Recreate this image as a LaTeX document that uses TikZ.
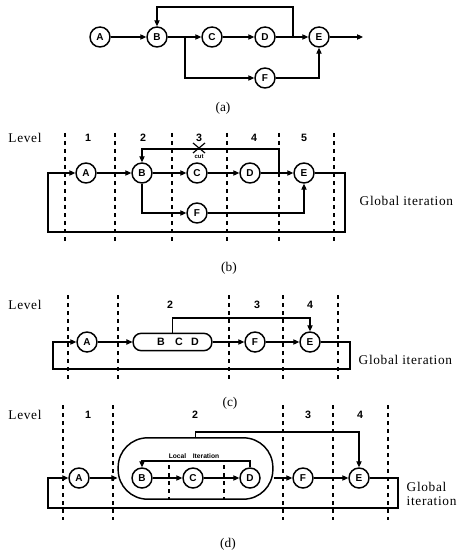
\documentclass[tikz,border=0pt]{standalone}
\usepackage{fontspec}
\setmainfont{Liberation Serif}
\setsansfont{Liberation Sans}
\newfontfamily\widefont[LetterSpace=5]{Liberation Serif}
\usetikzlibrary{arrows.meta}
\begin{document}
\begin{tikzpicture}[x=0.75pt,y=-0.75pt,
  nd/.style={circle,draw,line width=1.1pt,minimum size=15pt,inner sep=0pt,font=\sffamily\bfseries\fontsize{7.5}{8}\selectfont},
  ln/.style={line width=0.8pt},
  ar/.style={ln,-{Triangle[length=4.5pt,width=4pt]}},
  lvl/.style={dash pattern=on 3pt off 3pt,line width=0.8pt},
  num/.style={font=\sffamily\bfseries\fontsize{8}{9}\selectfont},
  txt/.style={font=\widefont\fontsize{10}{11}\selectfont},
  figcap/.style={font=\fontsize{10}{12}\selectfont},
  tiny/.style={font=\sffamily\bfseries\fontsize{4.5}{5}\selectfont,inner sep=0pt}]
\useasboundingbox (0,0) rectangle (461,556);
% ---------------- (a)
\node[nd] (aA) at (100,37) {A};
\node[nd] (aB) at (157,37) {B};
\node[nd] (aC) at (212,37) {C};
\node[nd] (aD) at (265,37) {D};
\node[nd] (aE) at (319,37) {E};
\node[nd] (aF) at (265,78) {F};
\draw[ar] (aA) -- (aB);
\draw[ar] (aB) -- (aC);
\draw[ar] (aC) -- (aD);
\draw[ar] (aD) -- (aE);
\coordinate (a1) at (293,37);
\coordinate (a2) at (157,7);
\coordinate (a3) at (185,37);
\coordinate (a4) at (363,37);
\draw[ar] (a1) |- (a2) -- (aB);
\draw[ar] (a3) |- (aF);
\draw[ar] (aF) -| (aE);
\draw[ar] (aE) -- (a4);
\node[figcap] (la) at (223,108) {(a)};
% ---------------- (b)
\node[txt] (bL) at (25,138) {Level};
\foreach \x in {65,115,172,227,279,334} \draw[lvl] (\x,133) -- (\x,242);
\foreach \x/\n in {88/1,143/2,199/3,254/4,304/5} \node[num,fill=white,inner sep=1pt] at (\x,138) {\n};
\node[nd] (bA) at (86,173) {A};
\node[nd] (bB) at (142,173) {B};
\node[nd] (bC) at (197,173) {C};
\node[nd] (bD) at (250,173) {D};
\node[nd] (bE) at (304,173) {E};
\node[nd] (bF) at (197,213) {F};
\draw[ar] (bA) -- (bB);
\draw[ar] (bB) -- (bC);
\draw[ar] (bC) -- (bD);
\draw[ar] (bD) -- (bE);
\coordinate (b1) at (279,173);
\coordinate (b2) at (142,149);
\draw[ar] (b1) |- (b2) -- (bB);
\draw[line width=0.9pt] (193,143) -- (205,153) (193,153) -- (205,143);
\node[tiny] (bcut) at (199,157) {cut};
\draw[ar] (bB) |- (bF);
\draw[ar] (bF) -| (bE);
\coordinate (bg1) at (345,232);
\coordinate (bg2) at (48,173);
\draw[ar] (bE) -| (bg1) -| (bg2) -- (bA);
\node[txt,anchor=west] (bgl) at (355,201) {Global iteration};
\node[figcap] (lb) at (229,268) {(b)};
% ---------------- (c)
\node[txt] (cL) at (25,305) {Level};
\foreach \x in {68,118,229,283,338} \draw[lvl] (\x,295) -- (\x,382);
\foreach \x/\n in {170/2,257/3,310/4} \node[num,fill=white,inner sep=1pt] at (\x,305) {\n};
\node[nd] (cA) at (87,342) {A};
\node[draw,line width=1.1pt,rounded corners=6pt,minimum width=59pt,minimum height=13pt,inner sep=0pt] (cbx) at (172.5,342) {};
\node[num] (cB) at (161,342) {B};
\node[num] (cC) at (179,342) {C};
\node[num] (cD) at (195,342) {D};
\node[nd] (cF) at (255,342) {F};
\node[nd] (cE) at (310,342) {E};
\draw[ar] (cA) -- (cbx);
\draw[ar] (cbx) -- (cF);
\draw[ar] (cF) -- (cE);
\coordinate (c1) at (310,318);
\draw[ar] (cbx.north) |- (c1) -- (cE);
\coordinate (cg1) at (350,369);
\coordinate (cg2) at (53,342);
\draw[ar] (cE) -| (cg1) -| (cg2) -- (cA);
\node[txt,anchor=west] (cgl) at (354,360) {Global iteration};
\node[figcap] (lc) at (230,403) {(c)};
% ---------------- (d)
\node[txt] (dL) at (25,415) {Level};
\foreach \x in {63,113,283,333,388} \draw[lvl] (\x,405) -- (\x,520);
\foreach \x in {169,224} \draw[lvl] (\x,465) -- (\x,500);
\foreach \x/\n in {88/1,195/2,308/3,360/4} \node[num,fill=white,inner sep=1pt] at (\x,415) {\n};
\node[nd] (dA) at (79,478) {A};
\node[draw,line width=1.1pt,rounded corners=22pt,minimum width=116pt,minimum height=46pt,inner sep=0pt] (dbx) at (195.5,468.5) {};
\node[nd] (dB) at (142,478) {B};
\node[nd] (dC) at (193,478) {C};
\node[nd] (dD) at (250,478) {D};
\node[nd] (dF) at (303,478) {F};
\node[nd] (dE) at (359,478) {E};
\draw[ar] (dA) -- (dbx.west |- dA);
\draw[ar] (dB) -- (dC);
\draw[ar] (dC) -- (dD);
\draw[ar] (dbx.east |- dF) -- (dF);
\draw[ar] (dF) -- (dE);
\coordinate (d1) at (142,461);
\draw[ar] (dD) |- (d1) -- (dB);
\node[tiny,font=\sffamily\bfseries\fontsize{5}{6}\selectfont] (dloc) at (194,456) {Local\quad Iteration};
\coordinate (d2) at (359,432);
\draw[ar] (dbx.north) |- (d2) -- (dE);
\coordinate (dg1) at (398,508);
\coordinate (dg2) at (48,478);
\draw[ar] (dE) -| (dg1) -| (dg2) -- (dA);
\node[txt,anchor=west,align=left] (dgl) at (402,494) {Global\\iteration};
\node[figcap] (ld) at (228,544) {(d)};
\end{tikzpicture}
\end{document}
